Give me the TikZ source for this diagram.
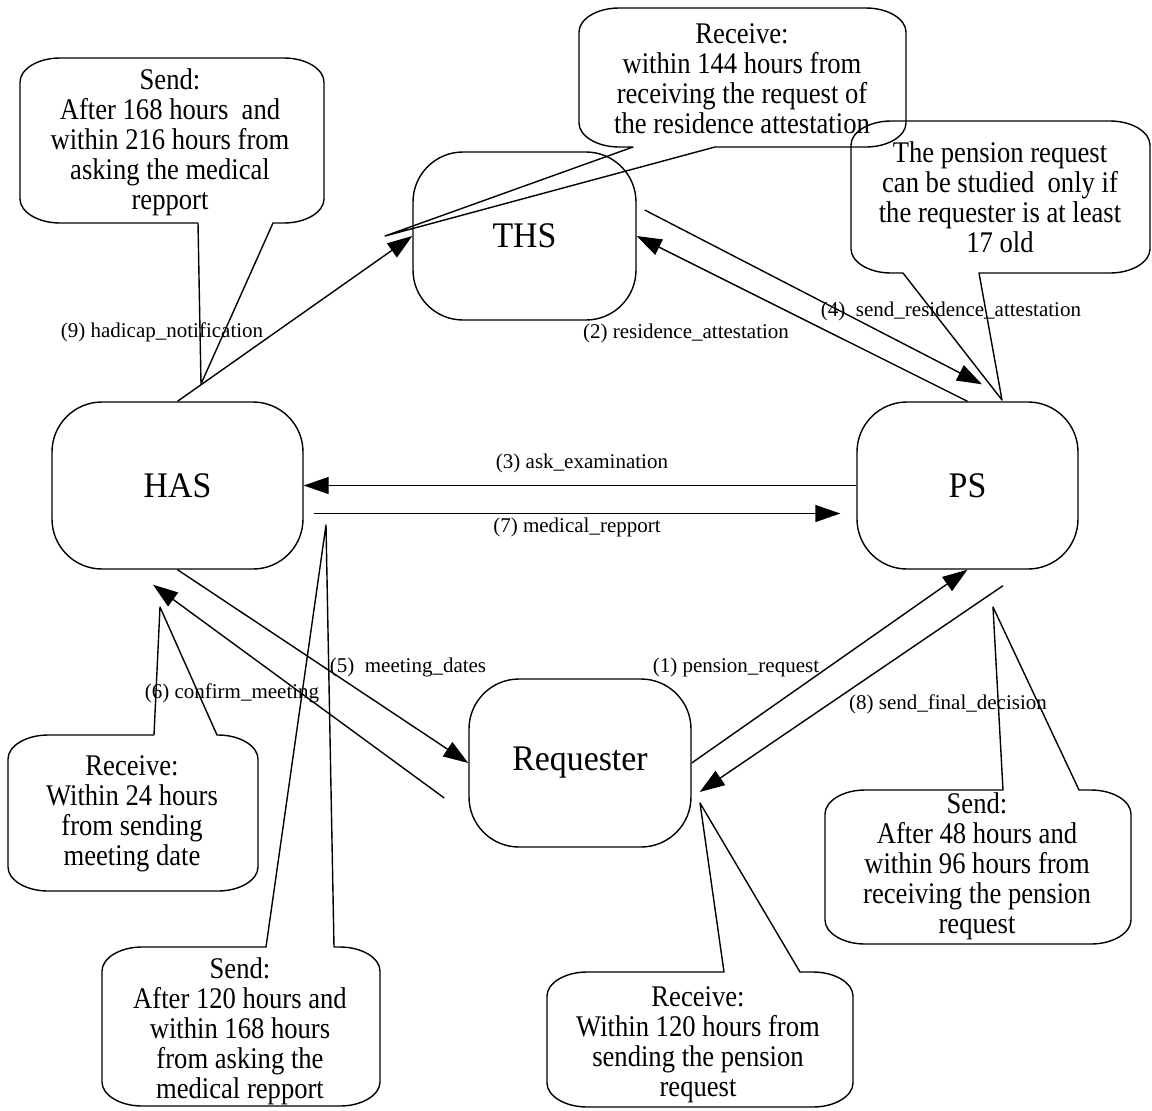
\documentclass[tikz,border=0pt]{standalone}
\usepackage{fontspec}
\setmainfont{Liberation Serif}
\newfontfamily\notefont[FakeStretch=0.887]{Liberation Serif}
\newfontfamily\statefont[FakeStretch=0.94]{Liberation Serif}
\usetikzlibrary{arrows.meta,calc}
\newcommand\bubbleDown[7]{%
\draw[bubble] ({#1+40},#2) -- ({#3-40},#2)
 .. controls ({#3-18},#2) and (#3,{#2+11}) .. (#3,{#2+24})
 -- (#3,{#4-24})
 .. controls (#3,{#4-11}) and ({#3-18},#4) .. ({#3-40},#4)
 -- (#6,#4) -- (#7) -- (#5,#4)
 -- ({#1+40},#4)
 .. controls ({#1+18},#4) and (#1,{#4-11}) .. (#1,{#4-24})
 -- (#1,{#2+24})
 .. controls (#1,{#2+11}) and ({#1+18},#2) .. ({#1+40},#2) -- cycle;}
\newcommand\bubbleUp[7]{%
\draw[bubble] ({#1+40},#2) -- (#5,#2) -- (#7) -- (#6,#2) -- ({#3-40},#2)
 .. controls ({#3-18},#2) and (#3,{#2+11}) .. (#3,{#2+24})
 -- (#3,{#4-24})
 .. controls (#3,{#4-11}) and ({#3-18},#4) .. ({#3-40},#4)
 -- ({#1+40},#4)
 .. controls ({#1+18},#4) and (#1,{#4-11}) .. (#1,{#4-24})
 -- (#1,{#2+24})
 .. controls (#1,{#2+11}) and ({#1+18},#2) .. ({#1+40},#2) -- cycle;}
\begin{document}
\begin{tikzpicture}[x=0.5pt,y=-0.5pt, line width=0.7pt,
  state/.style={draw, rounded corners=25pt, inner sep=0pt, font=\statefont\fontsize{18}{20}\selectfont},
  msg/.style={-{Triangle[length=12.5pt,width=8.5pt]}},
  lbl/.style={inner sep=0pt, font=\fontsize{10.5}{12}\selectfont},
  note/.style={inner sep=0pt, align=center, font=\notefont\fontsize{15}{15}\selectfont},
  bubble/.style={draw, line join=round}]
\useasboundingbox (0,0) rectangle (1152,1110);

% states
\node[state, minimum width=111.5pt, minimum height=84pt] (THS) at (524.5,236) {THS};
\node[state, minimum width=125.5pt, minimum height=83.5pt] (HAS) at (177.5,485.5) {HAS};
\node[state, minimum width=110.5pt, minimum height=83.5pt] (PS) at (967.5,485.5) {PS};
\node[state, minimum width=111pt, minimum height=84pt] (REQ) at (580,763) {Requester};

% messages
\draw[msg] (REQ.east) -- (PS.south);
\draw[msg] (PS.north) -- (THS.east);
\draw[msg] (PS.west) -- (HAS.east);
\draw[msg] ($(THS.east)+(8,-26)$) -- ($(PS.north)+(14.5,-17)$);
\draw[msg] (HAS.south) -- (REQ.west);
\draw[msg] ($(REQ.west)+(-24,35)$) -- ($(HAS.south)+(-24.5,15)$);
\draw[msg] ($(HAS.east)+(10,28)$) -- ($(PS.west)+(-16,28)$);
\draw[msg] ($(PS.south)+(35.5,16)$) -- ($(REQ.east)+(8,29)$);
\draw[msg] (HAS.north) -- (THS.west);

% message labels
\node[lbl] (l1) at (736,667) {(1) pension\_request};
\node[lbl] (l2) at (686,333) {(2) residence\_attestation};
\node[lbl] (l3) at (582,463) {(3) ask\_examination};
\node[lbl] (l4) at (951,311) {(4)\ \ send\_residence\_attestation};
\node[lbl] (l5) at (408,667) {(5)\ \ meeting\_dates};
\node[lbl] (l6) at (232,693) {(6) confirm\_meeting};
\node[lbl] (l7) at (577,527) {(7) medical\_repport};
\node[lbl] (l8) at (948,704) {(8) send\_final\_decision};
\node[lbl] (l9) at (162,332) {(9) hadicap\_notification};

% callout tips
\coordinate (tA) at (201,384);
\coordinate (tB) at (385,236);
\coordinate (tC) at (1002,400);
\coordinate (tD) at (160,607);
\coordinate (tE) at (326,525);
\coordinate (tF) at (700,803);
\coordinate (tG) at (993,607);

% callouts
\bubbleDown{20}{58}{324}{223}{198}{273}{tA}
\bubbleDown{579}{8}{906}{147}{633}{715}{tB}
\bubbleDown{851}{121}{1150}{273}{903}{979}{tC}
\bubbleUp{8}{735}{258}{891}{154}{217}{tD}
\bubbleUp{102}{947}{380}{1106}{266}{334}{tE}
\bubbleUp{547}{972}{853}{1107}{724}{800}{tF}
\bubbleUp{825}{790}{1131}{944}{1003}{1079}{tG}

\node[note] (nA) at (170,142) {Send:\\After 168 hours\ \ and\\within 216 hours from\\asking the medical\\repport};
\node[note] (nB) at (742,79) {Receive:\\within 144 hours from\\receiving the request of\\the residence attestation};
\node[note] (nC) at (1000,197.5) {The pension request\\can be studied\ \ only if\\the requester is at least\\17 old};
\node[note] (nD) at (132,814) {Receive:\\Within 24 hours\\from sending\\meeting date};
\node[note] (nE) at (240,1031) {Send:\\After 120 hours and\\within 168 hours\\from asking the\\medical repport};
\node[note] (nF) at (698,1045) {Receive:\\Within 120 hours from\\sending the pension\\request};
\node[note] (nG) at (977,866) {Send:\\After 48 hours and\\within 96 hours from\\receiving the pension\\request};
\end{tikzpicture}
\end{document}
